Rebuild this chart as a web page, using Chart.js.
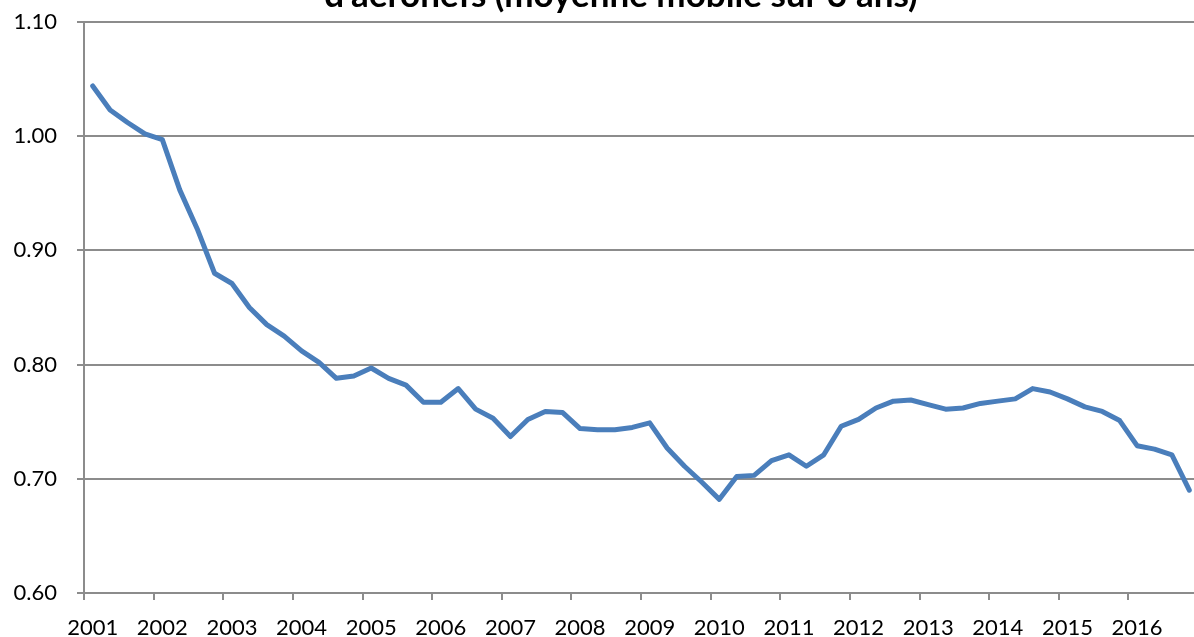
<!DOCTYPE html>
<html>
<head>
<meta charset="utf-8">
<title>Moyenne mobile</title>
<script src="https://cdn.jsdelivr.net/npm/chart.js@4/dist/chart.umd.min.js"></script>
<style>
  html, body { margin: 0; padding: 0; background: #fff; overflow: hidden; }
  #wrap { position: absolute; left: 0; top: -25px; width: 1242px; height: 662px; }
</style>
</head>
<body>
<div id="wrap"><canvas id="myChart"></canvas></div>
<script>
// titre (seule la dernière ligne est visible, coupée en haut)
const titleText = "d'aéronefs (moyenne mobile sur 3 ans)";

const years = [2001, 2002, 2003, 2004, 2005, 2006, 2007, 2008,
               2009, 2010, 2011, 2012, 2013, 2014, 2015, 2016];

// valeurs trimestrielles
const values = [
  1.044, 1.023, 1.012, 1.002,   // 2001
  0.997, 0.953, 0.919, 0.880,   // 2002
  0.871, 0.850, 0.835, 0.825,   // 2003
  0.812, 0.802, 0.788, 0.790,   // 2004
  0.797, 0.788, 0.782, 0.767,   // 2005
  0.767, 0.779, 0.761, 0.753,   // 2006
  0.737, 0.752, 0.759, 0.758,   // 2007
  0.744, 0.743, 0.743, 0.745,   // 2008
  0.749, 0.727, 0.711, 0.697,   // 2009
  0.682, 0.702, 0.703, 0.716,   // 2010
  0.721, 0.711, 0.721, 0.746,   // 2011
  0.752, 0.762, 0.768, 0.769,   // 2012
  0.765, 0.761, 0.762, 0.766,   // 2013
  0.768, 0.770, 0.779, 0.776,   // 2014
  0.770, 0.763, 0.759, 0.751,   // 2015
  0.729, 0.726, 0.721, 0.690    // 2016
];

const yMin = 0.60, yMax = 1.10, yStep = 0.10;

const labels = [];
years.forEach(y => { for (let q = 1; q <= 4; q++) labels.push(y + " T" + q); });

const axisGray = "#8c8c8c";
const font = { family: "Lato, 'Open Sans', sans-serif", size: 22 };

new Chart("myChart", {
  type: "line",
  data: {
    labels: labels,
    datasets: [{
      data: values,
      yAxisID: "y",
      borderColor: "#4a7ebb",
      borderWidth: 5,
      borderCapStyle: "round",
      borderJoinStyle: "round",
      pointRadius: 0,
      tension: 0,
      fill: false
    }]
  },
  options: {
    responsive: true,
    maintainAspectRatio: false,
    animation: false,
    layout: { padding: 0 },
    plugins: {
      legend: { display: false },
      tooltip: { enabled: false },
      title: {
        display: true,
        text: titleText,
        color: "#000",
        font: { family: "Lato, 'Open Sans', sans-serif", size: 35, weight: "bold" },
        padding: { top: 0, bottom: 5 }
      }
    },
    scales: {
      x: {
        type: "category",
        offset: true,
        afterFit: s => { s.height = 44; },
        grid: {
          offset: true,
          drawOnChartArea: false,
          drawTicks: true,
          tickLength: 7,
          lineWidth: 2,
          tickColor: ctx => (ctx.index % 4 === 0 ? axisGray : "rgba(0,0,0,0)")
        },
        border: { display: true, color: axisGray, width: 2 },
        ticks: {
          autoSkip: false,
          maxRotation: 0,
          minRotation: 0,
          padding: 15,
          color: "#000",
          font: font,
          callback: (v, i) => (i % 4 === 0 ? String(years[i / 4]) : "")
        }
      },
      y: {
        min: yMin,
        max: yMax,
        afterFit: s => { s.width = 84; },
        grid: {
          color: axisGray,
          lineWidth: 2,
          drawTicks: true,
          tickLength: 7
        },
        border: { display: true, color: axisGray, width: 2 },
        ticks: {
          stepSize: yStep,
          padding: 20,
          color: "#000",
          font: font,
          callback: v => Number(v).toFixed(2)
        }
      },
      // axe vide à droite : la zone de tracé déborde de la fenêtre comme sur l'original
      yRight: {
        position: "right",
        afterFit: s => { s.width = 44; },
        grid: { display: false },
        border: { display: false },
        ticks: { display: false }
      }
    }
  }
});
</script>
</body>
</html>
